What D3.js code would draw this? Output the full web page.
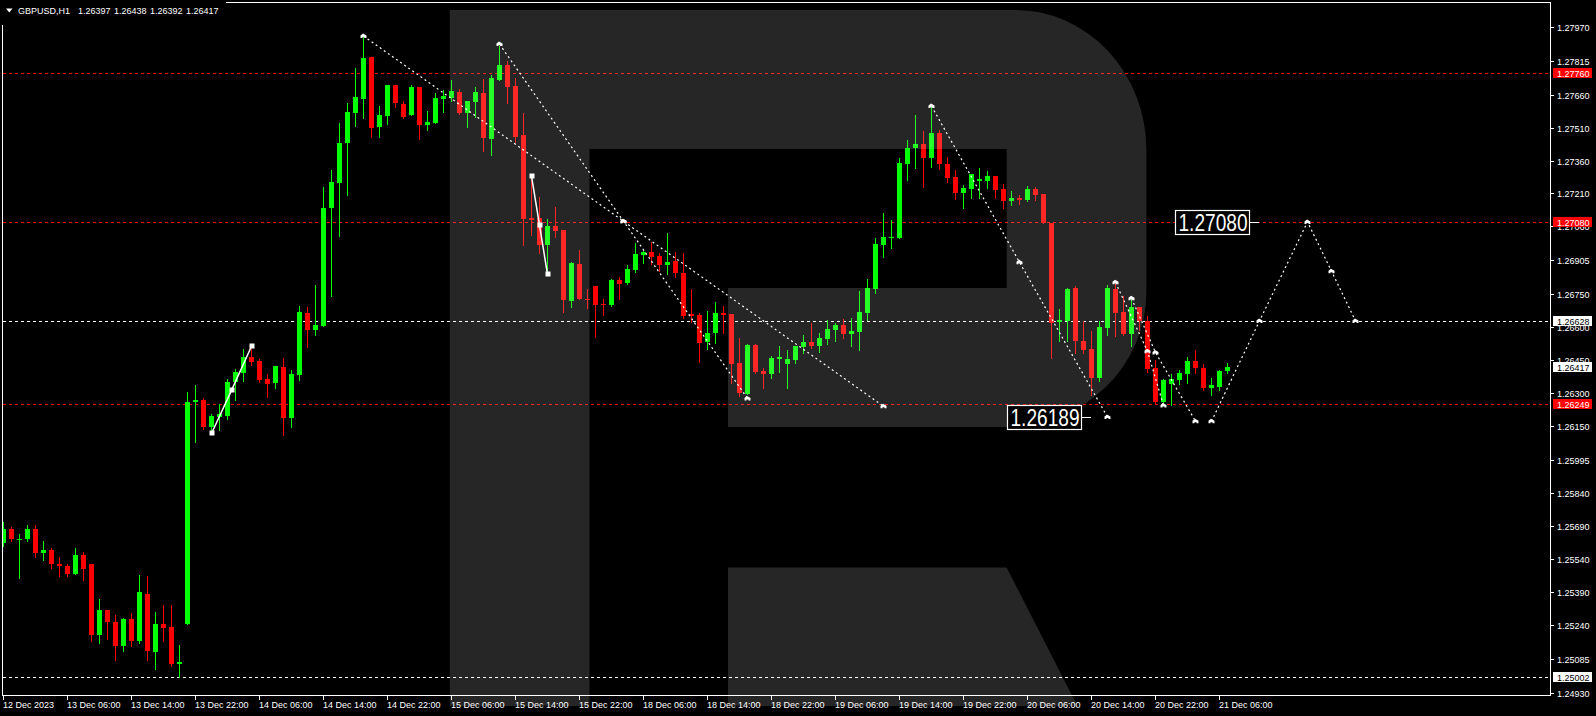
<!DOCTYPE html>
<html><head><meta charset="utf-8">
<script src="https://cdn.jsdelivr.net/npm/d3@7"></script>
<style>
html,body{margin:0;padding:0;background:#000;overflow:hidden}
svg{display:block}
text{font-family:"Liberation Sans",Arial,sans-serif}
</style></head><body><svg id="c" width="1596" height="716"></svg>
<script>
const opens=[1.25616,1.25680,1.25630,1.25630,1.25680,1.25570,1.25580,1.25520,1.25511,1.25474,1.25561,1.25516,1.25196,1.25310,1.25251,1.25145,1.25269,1.25168,1.25383,1.25118,1.25246,1.25232,1.25063,1.25246,1.26256,1.26265,1.26142,1.26187,1.26196,1.26347,1.26388,1.26462,1.26443,1.26361,1.26343,1.26416,1.26183,1.26379,1.26663,1.26585,1.26603,1.27142,1.27257,1.27440,1.27577,1.27641,1.27833,1.27513,1.27563,1.27705,1.27618,1.27567,1.27695,1.27522,1.27531,1.27641,1.27645,1.27673,1.27577,1.27627,1.27668,1.27458,1.27727,1.27796,1.27700,1.27476,1.27097,1.27097,1.26973,1.27060,1.27042,1.26717,1.26887,1.26727,1.26786,1.26704,1.26699,1.26813,1.26800,1.26859,1.26928,1.26941,1.26923,1.26882,1.26900,1.26845,1.26658,1.26653,1.26530,1.26571,1.26663,1.26658,1.26434,1.26292,1.26516,1.26398,1.26384,1.26452,1.26430,1.26448,1.26507,1.26530,1.26512,1.26544,1.26585,1.26608,1.26567,1.26576,1.26663,1.26772,1.26973,1.27005,1.27005,1.27344,1.27417,1.27435,1.27371,1.27485,1.27344,1.27284,1.27211,1.27229,1.27266,1.27266,1.27289,1.27229,1.27174,1.27188,1.27179,1.27229,1.27206,1.27074,1.26622,1.26626,1.26777,1.26535,1.26498,1.26366,1.26594,1.26772,1.26667,1.26567,1.26690,1.26626,1.26411,1.26256,1.26338,1.26356,1.26384,1.26443,1.26411,1.26320,1.26324,1.26397];
const highs=[1.25708,1.25689,1.25657,1.25698,1.25698,1.25621,1.25593,1.25548,1.25520,1.25593,1.25575,1.25520,1.25360,1.25310,1.25287,1.25273,1.25296,1.25470,1.25465,1.25301,1.25333,1.25333,1.25150,1.26302,1.26334,1.26274,1.26201,1.26247,1.26361,1.26407,1.26498,1.26498,1.26452,1.26384,1.26420,1.26457,1.26402,1.26695,1.26690,1.26791,1.27238,1.27316,1.27531,1.27622,1.27782,1.27929,1.27833,1.27609,1.27705,1.27705,1.27631,1.27705,1.27695,1.27586,1.27668,1.27682,1.27727,1.27686,1.27631,1.27695,1.27732,1.27750,1.27883,1.27814,1.27737,1.27577,1.27298,1.27193,1.27092,1.27147,1.27042,1.26896,1.26951,1.26772,1.26786,1.26727,1.26818,1.26827,1.26882,1.26983,1.26946,1.26987,1.26937,1.27028,1.26941,1.26937,1.26772,1.26663,1.26672,1.26713,1.26695,1.26658,1.26548,1.26521,1.26521,1.26411,1.26466,1.26512,1.26494,1.26512,1.26562,1.26617,1.26571,1.26631,1.26617,1.26635,1.26640,1.26763,1.26818,1.27005,1.27120,1.27088,1.27371,1.27453,1.27567,1.27494,1.27609,1.27499,1.27376,1.27316,1.27248,1.27298,1.27325,1.27312,1.27289,1.27252,1.27220,1.27202,1.27243,1.27238,1.27206,1.27074,1.26681,1.26777,1.26786,1.26626,1.26580,1.26626,1.26791,1.26795,1.26740,1.26731,1.26690,1.26649,1.26448,1.26361,1.26384,1.26402,1.26462,1.26494,1.26430,1.26366,1.26402,1.26438];
const lows=[1.25602,1.25625,1.25456,1.25625,1.25552,1.25534,1.25502,1.25465,1.25465,1.25474,1.25447,1.25168,1.25159,1.25177,1.25081,1.25123,1.25145,1.25159,1.25081,1.25040,1.25168,1.25054,1.25002,1.25246,1.26073,1.26133,1.26114,1.26128,1.26178,1.26265,1.26352,1.26425,1.26347,1.26279,1.26320,1.26105,1.26142,1.26356,1.26507,1.26562,1.26603,1.26740,1.27015,1.27202,1.27517,1.27554,1.27467,1.27467,1.27526,1.27604,1.27554,1.27567,1.27458,1.27499,1.27531,1.27581,1.27631,1.27572,1.27513,1.27558,1.27403,1.27385,1.27727,1.27622,1.27444,1.26973,1.27019,1.26937,1.26836,1.27010,1.26667,1.26690,1.26727,1.26685,1.26553,1.26653,1.26695,1.26727,1.26795,1.26850,1.26891,1.26887,1.26855,1.26841,1.26827,1.26640,1.26622,1.26439,1.26498,1.26526,1.26571,1.26343,1.26283,1.26292,1.26388,1.26320,1.26366,1.26393,1.26320,1.26434,1.26480,1.26503,1.26484,1.26521,1.26535,1.26548,1.26512,1.26494,1.26631,1.26754,1.26919,1.26960,1.27005,1.27270,1.27325,1.27238,1.27330,1.27321,1.27261,1.27184,1.27142,1.27188,1.27188,1.27234,1.27188,1.27142,1.27156,1.27161,1.27174,1.27179,1.27074,1.26457,1.26535,1.26535,1.26480,1.26480,1.26288,1.26352,1.26562,1.26558,1.26562,1.26512,1.26585,1.26393,1.26249,1.26247,1.26243,1.26338,1.26343,1.26388,1.26311,1.26288,1.26311,1.26392];
const closes=[1.25680,1.25630,1.25634,1.25680,1.25570,1.25580,1.25520,1.25511,1.25474,1.25561,1.25493,1.25196,1.25310,1.25251,1.25145,1.25269,1.25168,1.25388,1.25123,1.25246,1.25228,1.25063,1.25072,1.26256,1.26265,1.26142,1.26196,1.26201,1.26347,1.26393,1.26462,1.26439,1.26356,1.26338,1.26420,1.26183,1.26384,1.26667,1.26585,1.26608,1.27142,1.27261,1.27440,1.27581,1.27650,1.27828,1.27508,1.27567,1.27705,1.27622,1.27558,1.27695,1.27522,1.27535,1.27645,1.27654,1.27677,1.27577,1.27631,1.27673,1.27462,1.27737,1.27796,1.27695,1.27467,1.27092,1.27088,1.26973,1.27060,1.27037,1.26722,1.26891,1.26727,1.26722,1.26699,1.26699,1.26813,1.26795,1.26864,1.26932,1.26941,1.26919,1.26882,1.26896,1.26845,1.26649,1.26649,1.26526,1.26571,1.26663,1.26653,1.26430,1.26297,1.26516,1.26393,1.26384,1.26457,1.26462,1.26452,1.26512,1.26530,1.26512,1.26548,1.26590,1.26608,1.26567,1.26580,1.26667,1.26777,1.26978,1.27010,1.27010,1.27348,1.27417,1.27435,1.27371,1.27485,1.27344,1.27280,1.27211,1.27234,1.27298,1.27275,1.27289,1.27225,1.27174,1.27188,1.27179,1.27229,1.27202,1.27074,1.26617,1.26631,1.26772,1.26535,1.26494,1.26366,1.26599,1.26777,1.26663,1.26567,1.26690,1.26626,1.26407,1.26256,1.26356,1.26361,1.26388,1.26443,1.26411,1.26320,1.26334,1.26398,1.26417];

const timeLabels=["12 Dec 2023","13 Dec 06:00","13 Dec 14:00","13 Dec 22:00","14 Dec 06:00","14 Dec 14:00","14 Dec 22:00","15 Dec 06:00","15 Dec 14:00","15 Dec 22:00","18 Dec 06:00","18 Dec 14:00","18 Dec 22:00","19 Dec 06:00","19 Dec 14:00","19 Dec 22:00","20 Dec 06:00","20 Dec 14:00","20 Dec 22:00","21 Dec 06:00"];
const timeLabelBars=[0,8,16,24,32,40,48,56,64,72,80,88,96,104,112,120,128,136,144,152];
const priceTicks=[1.27970,1.27815,1.27660,1.27510,1.27360,1.27210,1.27060,1.26905,1.26750,1.26600,1.26450,1.26300,1.26150,1.25995,1.25840,1.25690,1.25540,1.25390,1.25240,1.25085,1.24930];
const redLevels=[1.27760,1.27080,1.26249];
const whiteLevels=[1.26628,1.25002];
const bidPrice=1.26417;
const headerTokens=["GBPUSD,H1","1.26397","1.26438","1.26392","1.26417"];

// drawn analysis objects: [bar, price]
const dottedLines=[
  [[45,1.27929],[77.5,1.27083],[110,1.26238]],
  [[62,1.27892],[77.5,1.27083],[93,1.26274]],
  [[116,1.27609],[127,1.26896],[138,1.26189]],
  [[139,1.26804],[143,1.26489],[145,1.26242]],
  [[141,1.26731],[144,1.26484],[149,1.26170]],
  [[151,1.26170],[157,1.26628],[163,1.27080],[166,1.26855],[169,1.26628]]
];
const solidLines=[
  [[26,1.26114],[28.5,1.26311],[31,1.26512]],
  [[66,1.27289],[67,1.27065],[68,1.26841]]
];
const bigLabels=[{text:"1.26189",bar:134.8,price:1.26189},{text:"1.27080",bar:155.8,price:1.27080}];

const W=1596,H=716;
const svg=d3.select('#c');
const N=opens.length;
const x=d3.scaleLinear().domain([0,1]).range([3.5,11.5]);
const y=d3.scaleLinear().domain([1.2776,1.25002]).range([73,677]);
const plotL=2,plotR=1550,plotT=2,plotB=695;

svg.append('rect').attr('width',W).attr('height',H).attr('fill','#000');
const defs=svg.append('defs');
defs.append('clipPath').attr('id','clip').append('rect')
  .attr('x',plotL+1).attr('y',plotT+1).attr('width',plotR-plotL-1).attr('height',plotB-plotT-1);
const plot=svg.append('g').attr('clip-path','url(#clip)');

// level lines
const levels=redLevels.map(p=>({p,c:'#ff0000'})).concat(whiteLevels.map(p=>({p,c:'#ffffff'})));
plot.selectAll('line.lvl').data(levels).join('line').attr('class','lvl')
  .attr('x1',plotL+1).attr('x2',plotR)
  .attr('y1',d=>Math.round(y(d.p))+0.5).attr('y2',d=>Math.round(y(d.p))+0.5)
  .attr('stroke',d=>d.c).attr('stroke-width',1).attr('stroke-dasharray','3,3');

// candles
const candles=d3.range(N).map(i=>({i,o:opens[i],h:highs[i],l:lows[i],c:closes[i]}));
const col=d=>d.c>=d.o?'#00ff00':'#ff0000';
plot.selectAll('rect.wick').data(candles).join('rect').attr('class','wick')
  .attr('x',d=>x(d.i)-0.5).attr('width',1)
  .attr('y',d=>Math.round(y(d.h)))
  .attr('height',d=>Math.max(1,Math.round(y(d.l))-Math.round(y(d.h))+1))
  .attr('fill',col);
plot.selectAll('rect.body').data(candles).join('rect').attr('class','body')
  .attr('x',d=>x(d.i)-2.5).attr('width',5)
  .attr('y',d=>Math.round(y(Math.max(d.o,d.c))))
  .attr('height',d=>Math.max(1,Math.round(y(Math.min(d.o,d.c)))-Math.round(y(Math.max(d.o,d.c)))))
  .attr('fill',col);

// watermark R (translucent white overlay)
const R=svg.append('g').attr('fill','#ffffff').attr('fill-opacity',0.15);
R.append('path').attr('d','M449.8,10 H1015 A131,140 0 0 1 1146.4,150 V292 A140,135 0 0 1 1006.7,427 H728 V288 H1006.7 V149 H589.5 V706 H449.8 Z');
R.append('path').attr('d','M728,567.6 H1006.7 L1077.4,706 H728 Z');

// analysis drawings
const line=d3.line().x(d=>x(d[0])).y(d=>y(d[1]));
const dg=svg.append('g').attr('clip-path','url(#clip)');
dg.selectAll('path.dl').data(dottedLines).join('path').attr('class','dl')
  .attr('d',line).attr('fill','none').attr('stroke','#fff').attr('stroke-width',1.2).attr('stroke-dasharray','2,3');
dg.selectAll('path.sl').data(solidLines).join('path').attr('class','sl')
  .attr('d',line).attr('fill','none').attr('stroke','#fff').attr('stroke-width',1.5);
const arrowPts=dottedLines.flat();
dg.selectAll('path.mk').data(arrowPts).join('path').attr('class','mk')
  .attr('transform',d=>`translate(${x(d[0])},${y(d[1])})`)
  .attr('d','M-3,2 V-0.5 L-0.5,-2.5 L3,-0.5 V2 H1 V1 H-1 V2 Z').attr('fill','#fff');
dg.selectAll('rect.sq').data(solidLines.flat()).join('rect').attr('class','sq')
  .attr('x',d=>Math.round(x(d[0]))-2.5).attr('y',d=>Math.round(y(d[1]))-2.5)
  .attr('width',5).attr('height',5).attr('fill','#fff');

// big price labels (box right edge at anchor bar, short tick to the right)
const bl=svg.selectAll('g.bl').data(bigLabels).join('g').attr('class','bl');
bl.append('line').attr('x1',d=>Math.round(x(d.bar))).attr('x2',d=>Math.round(x(d.bar))+9)
  .attr('y1',d=>Math.round(y(d.price))+0.5).attr('y2',d=>Math.round(y(d.price))+0.5)
  .attr('stroke','#fff').attr('stroke-width',1);
bl.append('rect').attr('x',d=>Math.round(x(d.bar))-74.5).attr('y',d=>Math.round(y(d.price))-11.5)
  .attr('width',74).attr('height',24).attr('fill','#000').attr('stroke','#fff').attr('stroke-width',1.2);
bl.append('text').attr('x',d=>Math.round(x(d.bar))-71.5).attr('y',d=>Math.round(y(d.price))+9)
  .attr('fill','#fff').attr('font-size',23).attr('textLength',69).attr('lengthAdjust','spacingAndGlyphs')
  .text(d=>d.text);

// frame
svg.append('rect').attr('x',plotL+0.5).attr('y',plotT+0.5).attr('width',plotR-plotL).attr('height',plotB-plotT)
  .attr('fill','none').attr('stroke','#fff').attr('stroke-width',1);

// price axis
const pa=svg.append('g');
pa.selectAll('line.pt').data(priceTicks).join('line').attr('class','pt')
  .attr('x1',plotR+1).attr('x2',plotR+4)
  .attr('y1',d=>Math.round(y(d))+0.5).attr('y2',d=>Math.round(y(d))+0.5).attr('stroke','#fff');
pa.selectAll('text.pt').data(priceTicks).join('text').attr('class','pt')
  .attr('x',plotR+7).attr('y',d=>Math.round(y(d))+3.5).attr('fill','#fff').attr('font-size',9)
  .text(d=>d.toFixed(5));
const boxes=redLevels.map(p=>({p,bg:'#ff0000',fg:'#fff'}))
  .concat(whiteLevels.map(p=>({p,bg:'#fff',fg:'#000'})))
  .concat([{p:bidPrice,bg:'#fff',fg:'#000'}]);
const bx=pa.selectAll('g.bx').data(boxes).join('g').attr('class','bx');
bx.append('rect').attr('x',plotR+3).attr('y',d=>Math.round(y(d.p))-5).attr('width',39).attr('height',10).attr('fill',d=>d.bg);
bx.append('text').attr('x',plotR+7).attr('y',d=>Math.round(y(d.p))+3.5).attr('fill',d=>d.fg).attr('font-size',9)
  .text(d=>d.p.toFixed(5));

// time axis
const ta=svg.append('g');
const tl=timeLabels.map((t,k)=>({t,b:timeLabelBars[k]}));
ta.selectAll('line').data(tl).join('line')
  .attr('x1',d=>Math.round(x(d.b))-0.5).attr('x2',d=>Math.round(x(d.b))-0.5)
  .attr('y1',plotB).attr('y2',plotB+5).attr('stroke','#fff');
ta.selectAll('text').data(tl).join('text')
  .attr('x',d=>Math.round(x(d.b))-1).attr('y',plotB+13).attr('fill','#fff').attr('font-size',9)
  .text(d=>d.t);

// header
svg.append('rect').attr('x',0).attr('y',0).attr('width',226).attr('height',25).attr('fill','#000');
svg.append('path').attr('d','M6,8.5 H12.5 L9.25,12.5 Z').attr('fill','#fff');
const hx=[18,78,114,150,186];
svg.selectAll('text.hd').data(headerTokens).join('text').attr('class','hd')
  .attr('x',(d,k)=>hx[k]).attr('y',14).attr('fill','#fff').attr('font-size',9).text(d=>d);
</script></body></html>
